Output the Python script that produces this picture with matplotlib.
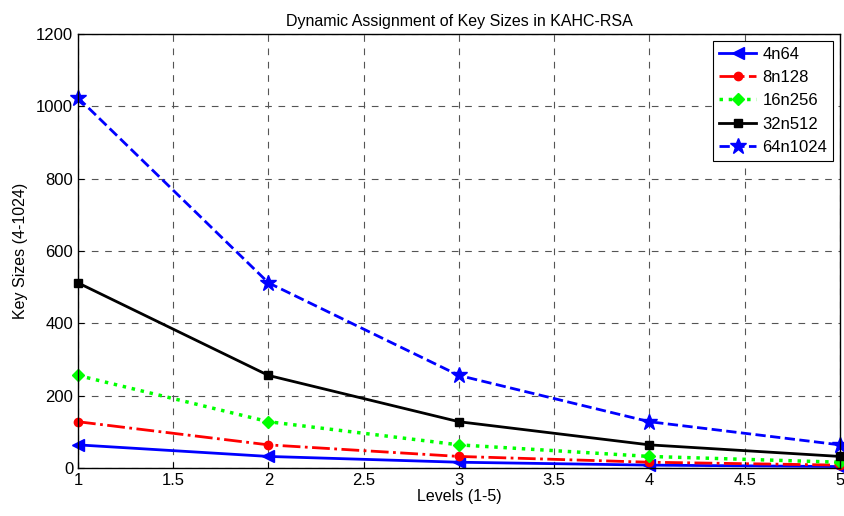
import matplotlib
matplotlib.use("Agg")
import matplotlib.pyplot as plt

plt.rcParams['font.family'] = ['Liberation Sans', 'DejaVu Sans']

levels = [1, 2, 3, 4, 5]
k4n64 = [64, 32, 16, 8, 4]
k8n128 = [128, 64, 32, 16, 8]
k16n256 = [256, 128, 64, 32, 16]
k32n512 = [512, 256, 128, 64, 32]
k64n1024 = [1024, 512, 256, 128, 64]

fig = plt.figure(figsize=(8.45, 5.16), dpi=100)
ax = fig.add_axes([0.0923, 0.093, 0.9017, 0.841])

ax.plot(levels, k4n64, color='blue', linestyle='-', marker='<', markersize=8, linewidth=2, label='4n64', clip_on=False)
ax.plot(levels, k8n128, color='red', linestyle='-.', marker='o', markersize=6, linewidth=2, label='8n128', clip_on=False)
ax.plot(levels, k16n256, color='#00ff00', linestyle=':', marker='D', markersize=6, linewidth=2.5, label='16n256', clip_on=False)
ax.plot(levels, k32n512, color='black', linestyle='-', marker='s', markersize=6, linewidth=2, label='32n512', clip_on=False)
ax.plot(levels, k64n1024, color='blue', linestyle='--', marker='*', markersize=12, linewidth=2, label='64n1024', clip_on=False)

ax.set_xlim(1, 5)
ax.set_ylim(0, 1200)
ax.set_xticks([1, 1.5, 2, 2.5, 3, 3.5, 4, 4.5, 5])
ax.set_xticklabels(['1', '1.5', '2', '2.5', '3', '3.5', '4', '4.5', '5'])
ax.set_yticks(range(0, 1201, 200))
ax.tick_params(labelsize=12, direction='in', length=4)
ax.grid(True, color='#555555', linestyle=(0, (6, 6)), linewidth=0.8)
for s in ax.spines.values():
    s.set_linewidth(1)

ax.set_title('Dynamic Assignment of Key Sizes in KAHC-RSA', fontsize=11.5, pad=6)
ax.set_xlabel('Levels (1-5)', fontsize=11.5, labelpad=1)
ax.set_ylabel('Key Sizes (4-1024)', fontsize=11.5, labelpad=6)

leg = ax.legend(loc='upper right', fontsize=12, fancybox=False, framealpha=1,
                edgecolor='black', handlelength=2.2, borderpad=0.35, labelspacing=0.5,
                handletextpad=0.4, borderaxespad=0.4)
leg.get_frame().set_linewidth(0.8)

fig.savefig('out.png', dpi=100)
